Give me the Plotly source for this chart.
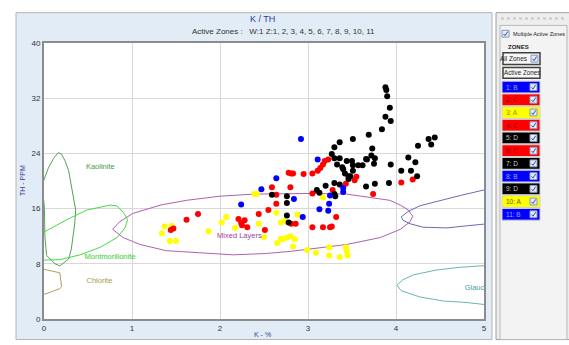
import plotly.graph_objects as go

# ---------------- data ----------------
yellow_k = [1.37,1.45,1.34,1.43,1.50,1.87,2.02,2.07,2.17,2.44,2.50,2.39,2.42,2.64,3.17,2.88,2.69,2.73,2.65,2.69,2.72,2.76,2.80,2.85,2.83,2.99,3.09,3.24,3.24,3.36,3.43,3.44,3.45]
yellow_th = [13.4,13.5,12.4,11.3,11.3,12.7,14.0,14.8,13.2,13.8,11.9,18.1,18.1,15.4,17.6,15.1,14.0,14.2,11.0,11.6,11.6,11.8,12.0,11.6,10.5,10.0,9.6,10.4,9.2,9.0,10.4,9.9,9.2]

red_k = [1.44,1.47,1.62,1.75,2.21,2.24,2.25,2.28,2.31,2.44,2.51,2.55,2.59,2.64,2.64,2.78,2.81,2.83,2.80,2.95,3.05,3.11,3.14,3.17,3.19,3.23,3.05,3.28,2.81,2.86,3.05,3.17,3.25,3.27,3.32,3.43,3.55,3.53,3.74,4.06,4.19]
red_th = [12.9,13.1,14.4,15.2,14.5,13.9,13.6,14.3,13.3,15.2,12.9,15.8,19.1,18.0,16.7,21.2,21.1,21.1,19.1,21.0,21.1,21.5,21.9,22.4,22.9,23.1,18.2,18.7,13.8,13.8,13.3,13.3,13.3,13.4,14.8,19.6,20.6,20.1,18.1,19.8,20.2]

blue_k = [2.24,2.47,2.92,2.64,3.11,3.40,3.40,3.25,2.84,3.13,3.23,3.24,2.94]
blue_th = [16.6,18.8,26.1,20.4,23.1,19.0,18.4,17.9,17.4,15.9,15.7,16.7,14.8]

black_k = [2.59,2.76,2.76,2.76,2.78,3.10,3.13,3.20,3.30,3.31,3.30,3.36,3.66,3.76,3.92,3.40,3.42,3.46,3.46,3.51,3.33,3.39,3.51,3.57,3.62,3.44,3.50,3.30,3.36,3.27,3.66,3.67,3.72,3.76,3.75,3.30,3.36,3.51,3.69,3.73,3.84,3.88,3.94,3.93,3.90,3.88,3.89,3.94,4.14,4.22,4.06,4.17,4.24,4.25,4.37,4.44,4.40,3.48]
black_th = [18.0,17.8,16.8,15.0,14.0,18.7,18.3,19.3,18.1,17.8,19.7,19.5,19.2,19.6,19.7,21.7,21.1,20.7,20.3,21.5,22.4,22.0,22.3,22.3,22.3,22.9,22.9,23.3,23.3,23.9,23.2,23.1,23.7,23.3,22.5,24.9,25.6,26.1,26.7,24.7,27.5,29.3,28.7,30.6,32.3,33.6,33.2,22.4,23.4,22.7,21.5,21.5,20.7,25.1,26.1,26.3,25.3,20.7]

# mineral zones (outlines)
kaol_k = [-0.02,0.02,0.05,0.11,0.16,0.20,0.24,0.28,0.30,0.33,0.36,0.35,0.31,0.28,0.18,0.125,0.03,0.01,0.005,-0.02]
kaol_th = [19.5,20.8,21.9,23.3,24.1,23.9,22.9,21.5,20.0,17.9,15.8,13.9,10.1,8.7,7.7,8.0,9.2,12.0,16.0,19.5]
mont_k = [-0.1,0.0,0.26,0.49,0.75,0.83,0.91,0.95,0.92,0.83,0.64,0.41,0.18,0.0,-0.1]
mont_th = [11.8,12.6,14.4,15.8,16.5,16.4,15.3,14.4,13.2,11.8,10.4,9.3,8.6,8.5,8.5]
chlo_k = [-0.1,0.0,0.18,0.20,0.18,0.01,-0.1]
chlo_th = [7.3,7.2,6.7,4.7,4.4,3.6,3.6]
mixed_k = [0.78,0.86,1.01,1.32,1.62,2.00,2.38,2.80,3.06,3.44,3.74,3.93,4.05,4.14,4.19,4.16,4.05,3.82,3.44,3.06,2.80,2.53,2.15,1.77,1.39,1.09,0.90,0.78]
mixed_th = [13.0,14.1,15.3,16.5,17.2,17.8,18.1,18.2,18.2,18.1,17.6,17.2,16.5,15.8,14.9,14.1,13.0,11.8,10.8,10.2,9.8,9.5,9.3,9.6,9.9,10.8,11.8,13.0]
illite_k = [5.2,5.0,4.73,4.50,4.27,4.14,4.06,4.08,4.16,4.31,4.58,4.80,5.0,5.2]
illite_th = [19.2,18.7,17.9,17.2,16.4,15.6,14.8,14.3,13.8,13.3,13.2,13.5,13.8,14.0]
glauc_k = [5.2,5.0,4.73,4.46,4.20,4.08,4.01,4.06,4.27,4.54,4.80,5.0,5.2]
glauc_th = [7.9,7.7,7.5,7.1,6.4,5.7,4.9,4.1,3.2,2.6,2.4,2.1,2.0]

zone_names = ["1: B","2: C","3: A","4: C","5: D","6: C","7: D","8: B","9: D","10: A","11: B"]
zone_colors = ["#0000ff","#ff0000","#ffff00","#ff0000","#000000","#ff0000","#000000","#0000ff","#000000","#ffff00","#0000ff"]
zone_text = ["#9fa8ff","#8a0000","#8a8a00","#8a0000","#cccccc","#8a0000","#cccccc","#9fa8ff","#cccccc","#5a5a00","#9fa8ff"]

x_ticks = [0,1,2,3,4,5]
y_ticks = [0,8,16,24,32,40]

# ---------------- figure ----------------
W, H = 569, 345
L, R, T, B = 44, 484, 43, 325
def px(p): return (p - L) / (R - L)
def py(p): return (B - p) / (B - T)

FONT = "Liberation Sans, Arial, sans-serif"
fig = go.Figure()

def outline(xs, ys, color):
    fig.add_trace(go.Scatter(x=xs, y=ys, mode="lines", line=dict(color=color, width=1),
                             hoverinfo="skip", showlegend=False))

outline(kaol_k, kaol_th, "#55a055")
outline(mont_k, mont_th, "#44dd44")
outline(chlo_k, chlo_th, "#b0a060")
outline(mixed_k, mixed_th, "#b060b0")
outline(illite_k, illite_th, "#6a6ab8")
outline(glauc_k, glauc_th, "#6ab4b4")

def pts(xs, ys, color):
    fig.add_trace(go.Scatter(x=xs, y=ys, mode="markers",
                             marker=dict(color=color, size=6, line=dict(width=0)),
                             showlegend=False))

pts(yellow_k, yellow_th, "#ffff00")
pts(red_k, red_th, "#ff0000")
pts(black_k, black_th, "#000000")
pts(blue_k, blue_th, "#0000ff")

# zone labels inside plot
labels = [("Kaolinite", 0.64, 22.0, "#4a9a4a"), ("Montmorillonite", 0.75, 9.0, "#33cc33"),
          ("Chlorite", 0.63, 5.5, "#a89a50"), ("Mixed Layers", 2.22, 12.0, "#a040a0")]
for t, x, y, c in labels:
    fig.add_trace(go.Scatter(x=[x], y=[y], mode="text", text=[t], textposition="middle center",
                             textfont=dict(color=c, size=7.5, family=FONT), showlegend=False, hoverinfo="skip"))
fig.add_trace(go.Scatter(x=[4.78], y=[4.5], mode="text", text=["Glauconite"], textposition="middle right",
                         textfont=dict(color="#4aa0a8", size=7.5, family=FONT), cliponaxis=True,
                         showlegend=False, hoverinfo="skip"))

shapes = []
# left light-blue panel and white plotting area
shapes.append(dict(type="rect", xref="paper", yref="paper", x0=px(16), x1=px(492), y0=py(346), y1=py(12),
                   fillcolor="#e2ecf6", line=dict(color="#b4b4b4", width=1), layer="below"))
shapes.append(dict(type="rect", xref="paper", yref="paper", x0=0, x1=1, y0=0, y1=1,
                   fillcolor="#ffffff", line=dict(width=0), layer="below"))
# right panel
shapes.append(dict(type="rect", xref="paper", yref="paper", x0=px(496), x1=px(570), y0=py(346), y1=py(12),
                   fillcolor="#ededed", line=dict(color="#a0a0a0", width=1), layer="below"))
shapes.append(dict(type="rect", xref="paper", yref="paper", x0=px(500), x1=px(567), y0=py(346), y1=py(25),
                   fillcolor="#f3f3f3", line=dict(color="#b8b8b8", width=1), layer="below"))
shapes.append(dict(type="line", xref="paper", yref="paper", x0=px(501), x1=px(565), y0=py(18), y1=py(18),
                   line=dict(color="#c8c8c8", width=2, dash="dot")))

def checkbox(x0, top, size=7):
    shapes.append(dict(type="rect", xref="paper", yref="paper", x0=px(x0), x1=px(x0 + size),
                       y0=py(top + size), y1=py(top), fillcolor="#e4eaf6", line=dict(color="#8898c0", width=1)))
    shapes.append(dict(type="path", xref="paper", yref="paper",
                       path="M %f,%f L %f,%f L %f,%f" % (px(x0 + 1.5), py(top + 3.8), px(x0 + 3), py(top + 5.5),
                                                        px(x0 + 5.7), py(top + 1.3)),
                       line=dict(color="#3050a0", width=1)))

# multiple-active checkbox
checkbox(502, 30)
# buttons
for y0, y1 in ((53, 65), (68, 79)):
    shapes.append(dict(type="rect", xref="paper", yref="paper", x0=px(503), x1=px(540), y0=py(y1), y1=py(y0),
                       fillcolor="#f6f6f6", line=dict(color="#404040", width=1.5)))
checkbox(531, 55.5, 7)

annotations = []
for i, (n, c, tc) in enumerate(zip(zone_names, zone_colors, zone_text)):
    top = 82 + 13 * i
    shapes.append(dict(type="rect", xref="paper", yref="paper", x0=px(502), x1=px(540), y0=py(top + 12), y1=py(top),
                       fillcolor=c, line=dict(color="#d0d0d0", width=1)))
    checkbox(530, top + 2.5, 7)
    annotations.append(dict(xref="paper", yref="paper", x=px(504), y=py(top + 6), text=n, showarrow=False,
                            xanchor="left", yanchor="middle", font=dict(size=6.5, color=tc, family=FONT)))

annotations += [
    dict(xref="paper", yref="paper", x=px(262), y=py(18), text="K / TH", showarrow=False,
         xanchor="center", yanchor="middle", font=dict(size=9, color="#2a3a9a", family=FONT)),
    dict(xref="paper", yref="paper", x=px(283), y=py(31), text="Active Zones :   W:1 Z:1, 2, 3, 4, 5, 6, 7, 8, 9, 10, 11",
         xanchor="center", yanchor="middle", showarrow=False, font=dict(size=8, color="#333333", family=FONT)),
    dict(xref="paper", yref="paper", x=px(262), y=py(341), text="K - %", showarrow=False,
         xanchor="center", yanchor="middle", font=dict(size=7, color="#3a3a9a", family=FONT)),
    dict(xref="paper", yref="paper", x=px(22), y=py(184), text="TH - PPM", showarrow=False, textangle=-90,
         xanchor="center", yanchor="middle", font=dict(size=7, color="#3a3a9a", family=FONT)),
    dict(xref="paper", yref="paper", x=px(511), y=py(34), text="Multiple Active Zones", showarrow=False,
         xanchor="left", yanchor="middle", font=dict(size=5.5, color="#222222", family=FONT)),
    dict(xref="paper", yref="paper", x=px(518), y=py(47), text="<b>ZONES</b>", showarrow=False,
         xanchor="center", yanchor="middle", font=dict(size=6, color="#222222", family=FONT)),
    dict(xref="paper", yref="paper", x=px(530), y=py(59), text="All Zones", showarrow=False,
         xanchor="right", yanchor="middle", font=dict(size=6.5, color="#222222", family=FONT)),
    dict(xref="paper", yref="paper", x=px(521.5), y=py(73.5), text="Active Zones", showarrow=False,
         xanchor="center", yanchor="middle", font=dict(size=6.3, color="#222222", family=FONT)),
]

fig.update_layout(
    width=W, height=H, margin=dict(l=L, r=W - R, t=T, b=H - B),
    paper_bgcolor="#ffffff", plot_bgcolor="#ffffff",
    shapes=shapes, annotations=annotations, showlegend=False,
    xaxis=dict(range=[0, 5], tickvals=x_ticks, ticktext=[str(v) for v in x_ticks],
               showgrid=True, gridcolor="#d8d8d8", gridwidth=1, zeroline=False,
               showline=True, mirror=True, linecolor="#8c8c8c", linewidth=2, ticks="",
               tickfont=dict(size=8, color="#333333", family=FONT)),
    yaxis=dict(range=[0, 40], tickvals=y_ticks, ticktext=[str(v) for v in y_ticks],
               showgrid=True, gridcolor="#d8d8d8", gridwidth=1, zeroline=False,
               showline=True, mirror=True, linecolor="#8c8c8c", linewidth=2, ticks="",
               tickfont=dict(size=8, color="#333333", family=FONT)),
)

fig.write_html("out.html")
